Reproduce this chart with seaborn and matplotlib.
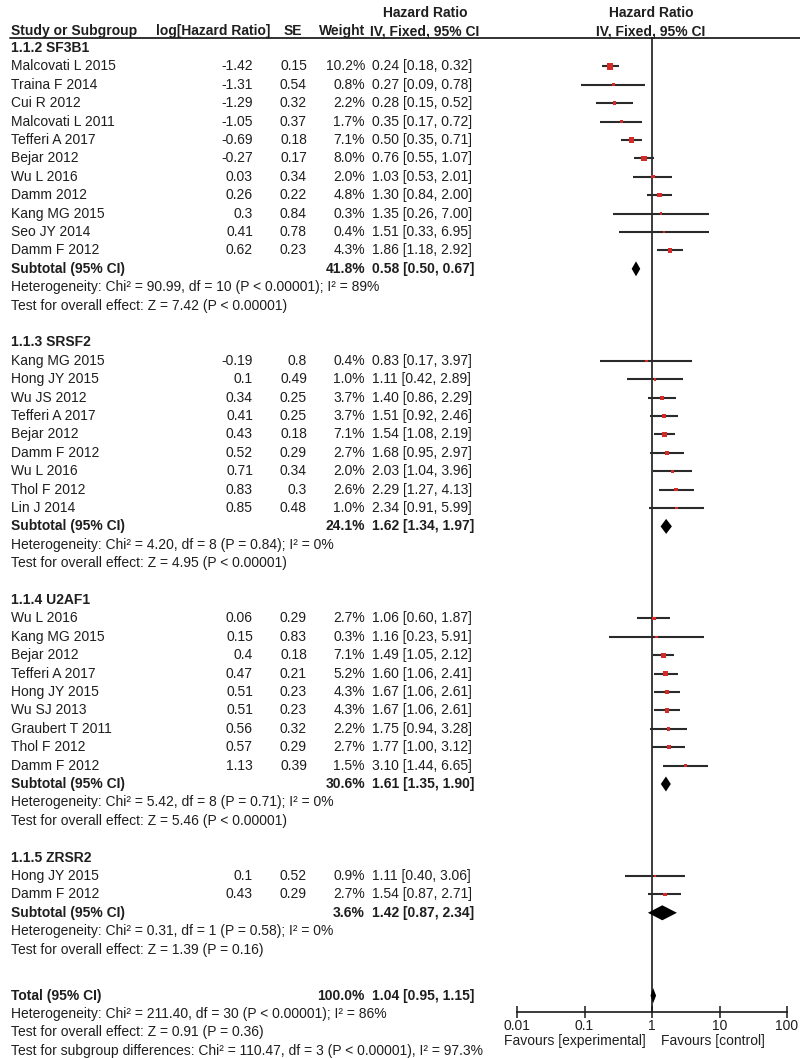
import numpy as np
import pandas as pd
import matplotlib
matplotlib.use("Agg")
import matplotlib.pyplot as plt
import seaborn as sns

sns.set_theme(style="white")
plt.rcParams['font.family'] = ['Liberation Sans', 'DejaVu Sans']

# ---------------- data ----------------
group_names = ["1.1.2 SF3B1", "1.1.3 SRSF2", "1.1.4 U2AF1", "1.1.5 ZRSR2"]

sf3b1_study = ["Malcovati L 2015", "Traina F 2014", "Cui R 2012", "Malcovati L 2011",
               "Tefferi A 2017", "Bejar 2012", "Wu L 2016", "Damm 2012",
               "Kang MG 2015", "Seo JY 2014", "Damm F 2012"]
sf3b1_loghr = [-1.42, -1.31, -1.29, -1.05, -0.69, -0.27, 0.03, 0.26, 0.3, 0.41, 0.62]
sf3b1_se = [0.15, 0.54, 0.32, 0.37, 0.18, 0.17, 0.34, 0.22, 0.84, 0.78, 0.23]
sf3b1_weight = [10.2, 0.8, 2.2, 1.7, 7.1, 8.0, 2.0, 4.8, 0.3, 0.4, 4.3]
sf3b1_hr = [0.24, 0.27, 0.28, 0.35, 0.50, 0.76, 1.03, 1.30, 1.35, 1.51, 1.86]
sf3b1_lo = [0.18, 0.09, 0.15, 0.17, 0.35, 0.55, 0.53, 0.84, 0.26, 0.33, 1.18]
sf3b1_hi = [0.32, 0.78, 0.52, 0.72, 0.71, 1.07, 2.01, 2.00, 7.00, 6.95, 2.92]

srsf2_study = ["Kang MG 2015", "Hong JY 2015", "Wu JS 2012", "Tefferi A 2017",
               "Bejar 2012", "Damm F 2012", "Wu L 2016", "Thol F 2012", "Lin J 2014"]
srsf2_loghr = [-0.19, 0.1, 0.34, 0.41, 0.43, 0.52, 0.71, 0.83, 0.85]
srsf2_se = [0.8, 0.49, 0.25, 0.25, 0.18, 0.29, 0.34, 0.3, 0.48]
srsf2_weight = [0.4, 1.0, 3.7, 3.7, 7.1, 2.7, 2.0, 2.6, 1.0]
srsf2_hr = [0.83, 1.11, 1.40, 1.51, 1.54, 1.68, 2.03, 2.29, 2.34]
srsf2_lo = [0.17, 0.42, 0.86, 0.92, 1.08, 0.95, 1.04, 1.27, 0.91]
srsf2_hi = [3.97, 2.89, 2.29, 2.46, 2.19, 2.97, 3.96, 4.13, 5.99]

u2af1_study = ["Wu L 2016", "Kang MG 2015", "Bejar 2012", "Tefferi A 2017",
               "Hong JY 2015", "Wu SJ 2013", "Graubert T 2011", "Thol F 2012", "Damm F 2012"]
u2af1_loghr = [0.06, 0.15, 0.4, 0.47, 0.51, 0.51, 0.56, 0.57, 1.13]
u2af1_se = [0.29, 0.83, 0.18, 0.21, 0.23, 0.23, 0.32, 0.29, 0.39]
u2af1_weight = [2.7, 0.3, 7.1, 5.2, 4.3, 4.3, 2.2, 2.7, 1.5]
u2af1_hr = [1.06, 1.16, 1.49, 1.60, 1.67, 1.67, 1.75, 1.77, 3.10]
u2af1_lo = [0.60, 0.23, 1.05, 1.06, 1.06, 1.06, 0.94, 1.00, 1.44]
u2af1_hi = [1.87, 5.91, 2.12, 2.41, 2.61, 2.61, 3.28, 3.12, 6.65]

zrsr2_study = ["Hong JY 2015", "Damm F 2012"]
zrsr2_loghr = [0.1, 0.43]
zrsr2_se = [0.52, 0.29]
zrsr2_weight = [0.9, 2.7]
zrsr2_hr = [1.11, 1.54]
zrsr2_lo = [0.40, 0.87]
zrsr2_hi = [3.06, 2.71]

sub_weight = [41.8, 24.1, 30.6, 3.6]
sub_hr = [0.58, 1.62, 1.61, 1.42]
sub_lo = [0.50, 1.34, 1.35, 0.87]
sub_hi = [0.67, 1.97, 1.90, 2.34]
sub_het = ["Heterogeneity: Chi² = 90.99, df = 10 (P < 0.00001); I² = 89%",
           "Heterogeneity: Chi² = 4.20, df = 8 (P = 0.84); I² = 0%",
           "Heterogeneity: Chi² = 5.42, df = 8 (P = 0.71); I² = 0%",
           "Heterogeneity: Chi² = 0.31, df = 1 (P = 0.58); I² = 0%"]
sub_test = ["Test for overall effect: Z = 7.42 (P < 0.00001)",
            "Test for overall effect: Z = 4.95 (P < 0.00001)",
            "Test for overall effect: Z = 5.46 (P < 0.00001)",
            "Test for overall effect: Z = 1.39 (P = 0.16)"]

total_weight = 100.0
total_hr = 1.04
total_lo = 0.95
total_hi = 1.15
total_notes = ["Heterogeneity: Chi² = 211.40, df = 30 (P < 0.00001); I² = 86%",
               "Test for overall effect: Z = 0.91 (P = 0.36)",
               "Test for subgroup differences: Chi² = 110.47, df = 3 (P < 0.00001), I² = 97.3%"]

tick_values = [0.01, 0.1, 1, 10, 100]
tick_labels = ["0.01", "0.1", "1", "10", "100"]

groups = [
    (sf3b1_study, sf3b1_loghr, sf3b1_se, sf3b1_weight, sf3b1_hr, sf3b1_lo, sf3b1_hi),
    (srsf2_study, srsf2_loghr, srsf2_se, srsf2_weight, srsf2_hr, srsf2_lo, srsf2_hi),
    (u2af1_study, u2af1_loghr, u2af1_se, u2af1_weight, u2af1_hr, u2af1_lo, u2af1_hi),
    (zrsr2_study, zrsr2_loghr, zrsr2_se, zrsr2_weight, zrsr2_hr, zrsr2_lo, zrsr2_hi),
]

# ---------------- layout ----------------
W, H = 800, 1058
Y0, DY = 48.0, 18.4
TXT = '#1e1e1e'
FS = 10


def ypx(r):
    return Y0 + DY * r


fig = plt.figure(figsize=(W / 100, H / 100), dpi=100)
axt = fig.add_axes([0, 0, 1, 1])
axt.set_xlim(0, W)
axt.set_ylim(H, 0)
axt.axis('off')

AX_TOP, AX_BOT = 37.0, 1012.0
X_LEFT, X_RIGHT = 517.0, 787.0
axf = fig.add_axes([X_LEFT / W, 1 - AX_BOT / H, (X_RIGHT - X_LEFT) / W, (AX_BOT - AX_TOP) / H])
axf.set_xscale('log')
axf.set_xlim(tick_values[0], tick_values[-1])
axf.set_ylim(AX_BOT, AX_TOP)
axf.patch.set_alpha(0)

X_STUDY, X_LOG, X_SE, X_W, X_HR = 11, 253, 307, 365, 372


def txt(x, y, s, ha='left', bold=False, size=FS):
    axt.text(x, y, s, ha=ha, va='center', fontsize=size, color=TXT,
             fontweight='bold' if bold else 'normal')


# headers
txt(425, 13, "Hazard Ratio", ha='center', bold=True)
txt(425, 31, "IV, Fixed, 95% CI", ha='center', bold=True)
txt(651, 13, "Hazard Ratio", ha='center', bold=True)
txt(651, 31, "IV, Fixed, 95% CI", ha='center', bold=True)
txt(X_STUDY, 31, "Study or Subgroup", bold=True)
txt(270, 31, "log[Hazard Ratio]", ha='right', bold=True)
txt(302, 31, "SE", ha='right', bold=True)
txt(X_W, 31, "Weight", ha='right', bold=True)
axt.plot([10, W], [37.5, 37.5], color='#222222', lw=1.3)

rows = []
subs = []
r = 0
for gi, (st, lg, se, wt, hr, lo, hi) in enumerate(groups):
    txt(X_STUDY, ypx(r), group_names[gi], bold=True)
    r += 1
    for i in range(len(st)):
        y = ypx(r)
        txt(X_STUDY, y, st[i])
        txt(X_LOG, y, str(lg[i]), ha='right')
        txt(X_SE, y, str(se[i]), ha='right')
        txt(X_W, y, f"{wt[i]:.1f}%", ha='right')
        txt(X_HR, y, f"{hr[i]:.2f} [{lo[i]:.2f}, {hi[i]:.2f}]")
        rows.append(dict(y=y, hr=hr[i], lo=lo[i], hi=hi[i], weight=wt[i]))
        r += 1
    y = ypx(r)
    txt(X_STUDY, y, "Subtotal (95% CI)", bold=True)
    txt(X_W, y, f"{sub_weight[gi]:.1f}%", ha='right', bold=True)
    txt(X_HR, y, f"{sub_hr[gi]:.2f} [{sub_lo[gi]:.2f}, {sub_hi[gi]:.2f}]", bold=True)
    subs.append(dict(y=y, hr=sub_hr[gi], lo=sub_lo[gi], hi=sub_hi[gi]))
    r += 1
    txt(X_STUDY, ypx(r), sub_het[gi])
    r += 1
    txt(X_STUDY, ypx(r), sub_test[gi])
    r += 2

r += 0.5
y = ypx(r)
txt(X_STUDY, y, "Total (95% CI)", bold=True)
txt(X_W, y, f"{total_weight:.1f}%", ha='right', bold=True)
txt(X_HR, y, f"{total_hr:.2f} [{total_lo:.2f}, {total_hi:.2f}]", bold=True)
subs.append(dict(y=y, hr=total_hr, lo=total_lo, hi=total_hi))
for note in total_notes:
    r += 1
    txt(X_STUDY, ypx(r), note)

df = pd.DataFrame(rows)
dsub = pd.DataFrame(subs)

# forest plot
axf.axvline(1, color='#1a1a1a', lw=1.2, zorder=1)
axf.hlines(df['y'], df['lo'], df['hi'], color='#2a2a2a', lw=1.5, zorder=2)
sns.scatterplot(data=df, x='hr', y='y', size='weight', sizes=(3, 20), size_norm=(0.3, 10.2),
                marker='s', color='#d42a2a', edgecolor='none', linewidth=0,
                legend=False, ax=axf, zorder=3)
for _, s in dsub.iterrows():
    axf.fill([s['lo'], s['hr'], s['hi'], s['hr']],
             [s['y'], s['y'] - 7.5, s['y'], s['y'] + 7.5],
             color='black', zorder=4, lw=0)

axf.set_xlabel('')
axf.set_ylabel('')
axf.set_yticks([])
axf.set_xticks(tick_values)
axf.set_xticklabels(tick_labels)
axf.xaxis.set_minor_locator(matplotlib.ticker.NullLocator())
axf.tick_params(axis='x', direction='inout', length=8, width=1.1, color='#1a1a1a',
                labelsize=FS, labelcolor=TXT, pad=1, bottom=True)
for side in ['top', 'left', 'right']:
    axf.spines[side].set_visible(False)
axf.spines['bottom'].set_color('#1a1a1a')
axf.spines['bottom'].set_linewidth(1.2)

txt(646, 1041, "Favours [experimental]", ha='right')
txt(661, 1041, "Favours [control]", ha='left')

fig.savefig("out.png", dpi=100)
